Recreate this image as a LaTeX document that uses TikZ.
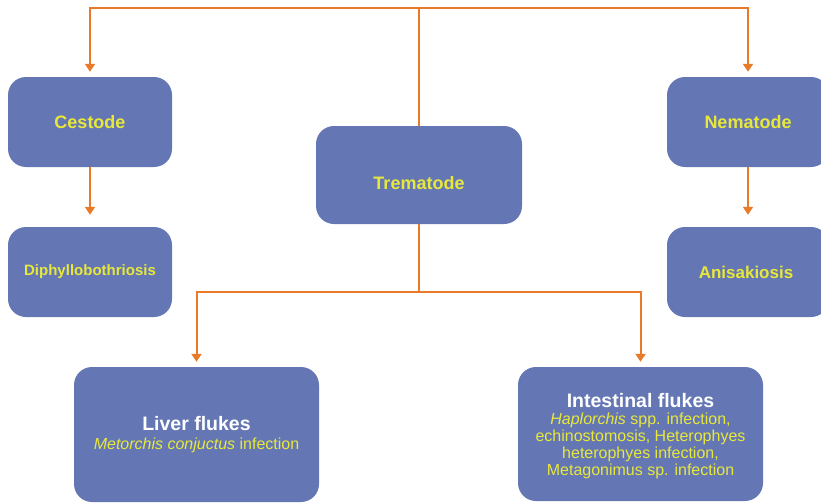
\documentclass[tikz,border=0pt]{standalone}
\usepackage{fontspec}
\setmainfont{Liberation Sans}
\usetikzlibrary{arrows.meta}
\definecolor{boxblue}{RGB}{100,119,180}
\definecolor{txtyellow}{RGB}{232,232,58}
\definecolor{lineorange}{RGB}{232,122,40}
\tikzset{
  box/.style={fill=boxblue, draw=none, rounded corners=18pt, inner sep=0pt, align=center},
  lbl/.style={text=txtyellow, font=\fontsize{18}{21}\selectfont\bfseries, align=center},
  conn/.style={draw=lineorange, line width=2pt},
  arr/.style={conn, -{Triangle[length=8pt,width=10pt]}, shorten >=5pt},
}
\begin{document}
\begin{tikzpicture}[x=1pt,y=-1pt]
\useasboundingbox (0,0) rectangle (821,503);
% boxes
\node[box, minimum width=164pt, minimum height=90pt] (cest) at (90,122) {};
\node[lbl] (cestl) at (90,122) {Cestode};
\node[box, minimum width=164pt, minimum height=90pt] (diph) at (90,272) {};
\node[lbl, font=\fontsize{15}{18}\selectfont\bfseries] (diphl) at (90,272) {Diphyllobothriosis};
\node[box, minimum width=206pt, minimum height=98pt] (trem) at (419,175) {};
\node[lbl] (treml) at (419,183) {Trematode};
\node[box, minimum width=162pt, minimum height=90pt] (nema) at (748,122) {};
\node[lbl] (nemal) at (748,122) {Nematode};
\node[box, minimum width=162pt, minimum height=90pt] (anis) at (748,272) {};
\node[lbl, font=\fontsize{17}{20}\selectfont\bfseries] (anisl) at (746,272) {Anisakiosis};
\node[box, minimum width=245pt, minimum height=135pt] (liver) at (196.5,434.5) {};
\node[align=center, font=\fontsize{16}{19}\selectfont, text=txtyellow] (liverl) at (196.5,435)
  {{\color{white}\fontsize{19.5}{22}\selectfont\bfseries Liver flukes}\\
   \textit{Metorchis conjuctus} infection};
\node[box, minimum width=245pt, minimum height=134pt] (intest) at (640.5,434) {};
\node[align=center, font=\fontsize{16}{17}\selectfont, text=txtyellow] (intestl) at (640.5,436)
  {{\color{white}\fontsize{19.5}{22}\selectfont\bfseries Intestinal flukes}\\
   \textit{Haplorchis} spp. infection,\\
   echinostomosis, Heterophyes\\
   heterophyes infection,\\
   Metagonimus sp. infection};
% connectors
\coordinate (top) at (419,8);
\coordinate (br) at (419,292);
\draw[conn] (trem.north) -- (top);
\draw[arr] (top) -| (cest.north);
\draw[arr] (top) -| (nema.north);
\draw[arr, shorten >=12pt] (cest.south) -- (diph.north);
\draw[arr, shorten >=12pt] (nema.south) -- (anis.north);
\draw[conn] (trem.south) -- (br);
\draw[arr] (br) -| (liver.north);
\draw[arr] (br) -| (intest.north);
\end{tikzpicture}
\end{document}
